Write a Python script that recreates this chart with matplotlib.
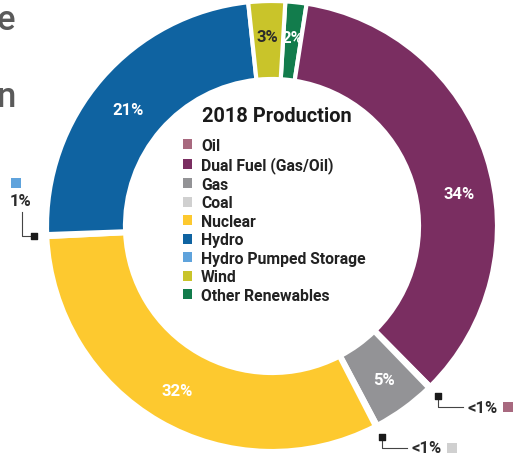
import numpy as np
import matplotlib.pyplot as plt
from matplotlib.patches import Patch

plt.rcParams['font.family'] = ['Roboto', 'DejaVu Sans']

# slices, clockwise from the top of the ring
sources = ["Other Renewables", "Dual Fuel (Gas/Oil)", "Oil", "Gas", "Coal",
           "Nuclear", "Hydro Pumped Storage", "Hydro", "Wind"]
shares = [1.5, 34.7, 0.2, 4.4, 0.2, 31.4, 0.2, 23.6, 2.6]
pct_text = ["2%", "34%", "<1%", "5%", "<1%", "32%", "1%", "21%", "3%"]
colors = ["#127c4c", "#7a2e61", "#a8697f", "#939396", "#d0d0d0",
          "#fdc92f", "#5fa3dc", "#0f63a1", "#c9c42a"]

legend_order = ["Oil", "Dual Fuel (Gas/Oil)", "Gas", "Coal", "Nuclear", "Hydro",
                "Hydro Pumped Storage", "Wind", "Other Renewables"]
small = ["Oil", "Coal", "Hydro Pumped Storage"]

color_of = dict(zip(sources, colors))

fig = plt.figure(figsize=(5.16, 4.60), dpi=100)
ax = fig.add_axes([0, 0, 1, 1])

cx, cy, r_out, ring = 272, 227, 225, 78

# y axis is flipped below, so counterclock=True draws clockwise on screen
wedges, _ = ax.pie(shares, colors=colors, startangle=-86.6, counterclock=True,
                   radius=r_out, center=(cx, cy),
                   wedgeprops=dict(width=ring, edgecolor="white", linewidth=3))

ax.set_xlim(0, 516)
ax.set_ylim(460, 0)
ax.set_aspect("equal")
ax.axis("off")

# percentages inside the ring
for w, name, txt in zip(wedges, sources, pct_text):
    if name in small:
        continue
    mid = np.deg2rad((w.theta1 + w.theta2) / 2)
    rr = 190
    if name == "Dual Fuel (Gas/Oil)":
        mid += np.deg2rad(8)
    if name == "Hydro":
        mid -= np.deg2rad(2)
        rr = 185
    tc = "#2b2b2b" if name == "Wind" else "white"
    ax.text(cx + rr * np.cos(mid), cy + rr * np.sin(mid), txt, color=tc,
            fontsize=12, fontweight="bold", ha="center", va="center")

# callouts for the tiny slices
for w, name, txt in zip(wedges, sources, pct_text):
    if name not in small:
        continue
    mid = np.deg2rad((w.theta1 + w.theta2) / 2)
    mx, my = cx + 238 * np.cos(mid), cy + 238 * np.sin(mid)
    if name == "Hydro Pumped Storage":
        ax.plot([mx, mx - 12, mx - 12], [my, my, my - 24], color="#444444", lw=0.8)
        ax.text(mx - 14, my - 36, txt, fontsize=12, fontweight="bold",
                color="#2b2b2b", ha="center", va="center")
        ax.scatter([mx - 18], [my - 53], marker="s", s=60, color=color_of[name], lw=0)
    else:
        ax.plot([mx, mx, mx + 25], [my, my + 11, my + 11], color="#444444", lw=0.8)
        ax.text(mx + 29, my + 11, txt, fontsize=12, fontweight="bold",
                color="#2b2b2b", ha="left", va="center")
        ax.scatter([mx + 70], [my + 11], marker="s", s=60, color=color_of[name], lw=0)
    ax.scatter([mx], [my], marker="s", s=14, color="#1a1a1a", zorder=5)

# cut off headline letters at the left edge
ax.text(15, 30, "e", fontsize=25, color="#5a5a5a", ha="right", va="baseline",
        fontweight="medium")
ax.text(16, 107, "n", fontsize=25, color="#5a5a5a", ha="right", va="baseline",
        fontweight="medium")

ax.text(277, 117, "2018 Production", fontsize=14.4, fontweight="bold",
        color="#1a1a1a", ha="center", va="center")

handles = [Patch(facecolor=color_of[n], edgecolor="none") for n in legend_order]
leg = ax.legend(handles, legend_order, loc="upper left", bbox_to_anchor=(183, 139),
                bbox_transform=ax.transData, frameon=False,
                prop={"weight": "bold", "size": 11.3}, labelcolor="#222222",
                handlelength=0.6, handleheight=0.6, handletextpad=0.55,
                labelspacing=0.22, borderpad=0, borderaxespad=0)

fig.savefig("out.png", dpi=100)
